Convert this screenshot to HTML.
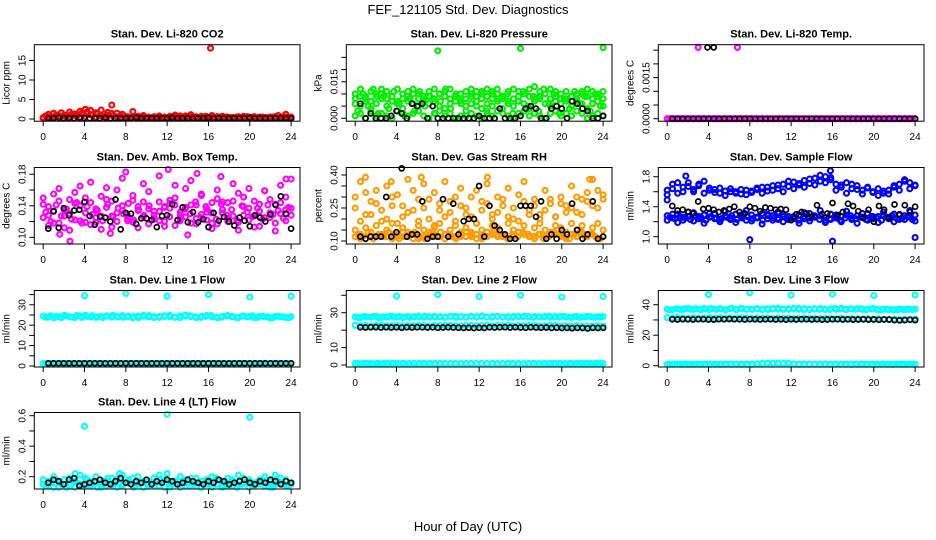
<!DOCTYPE html>
<html><head><meta charset="utf-8"><style>
html,body{margin:0;padding:0;background:#fff;}
svg{display:block;font-family:"Liberation Sans",Arial,sans-serif;}
</style></head><body>
<svg id="chart" width="936" height="540" viewBox="0 0 936 540">
<text x="468" y="14" text-anchor="middle" font-size="13">FEF_121105  Std. Dev. Diagnostics</text>
<text x="468" y="531" text-anchor="middle" font-size="13">Hour of Day (UTC)</text>
</svg>
<script>
// ---- data arrays ----
const hourTicks = [0,4,8,12,16,20,24];
// CO2
const co2RedA = [0.4,1.2,1.5,0.8,1.0,1.8,1.3,2.0,2.5,2.2,1.6,2.3,1.0,3.6,1.5,1.2,0.6,1.9,0.7,0.9,0.5,0.6,0.8,0.5,0.7,1.0,0.6,0.8,1.1,0.6,0.7,0.5,0.9,0.6,0.7,0.5,0.4,0.6,0.7,0.5,0.6,0.5,0.4,0.5,0.6,0.5,1.2,0.5];
const co2RedB = [0.2,0.6,0.5,0.3,0.8,0.5,0.9,0.4,0.7,1.1,0.5,0.8,0.3,1.4,0.6,0.4,0.3,0.5,0.3,0.4,0.3,0.2,0.4,0.3,0.3,0.5,0.3,0.4,0.5,0.3,0.4,0.2,0.4,0.3,0.3,0.2,0.2,0.3,0.4,0.2,0.3,0.2,0.2,0.3,0.3,0.2,0.5,0.2];
const co2RedC = [0.8,0.4,1.0,1.6,0.6,1.2,0.7,1.5,1.8,0.9,1.4,0.6,1.7,0.8,0.5,1.0,0.4,0.6,0.5,0.7,0.4,0.5,0.6,0.4,0.5,0.6,0.8,0.5,0.6,0.4,0.5,0.7,0.5,0.4,0.6,0.5,0.4,0.5,0.4,0.6,0.5,0.4,0.5,0.4,0.5,0.9,0.6,0.4];
const co2Outliers = [[16.2,18.2]];
const co2Black = [0.2,0.2,0.3,0.2,0.2,0.2,0.3,0.2,0.2,0.2,0.2,0.3,0.2,0.2,0.2,0.2,0.2,0.3,0.2,0.2,0.2,0.2,0.2,0.2,0.3,0.2,0.2,0.2,0.2,0.2,0.2,0.3,0.2,0.2,0.2,0.2,0.2,0.2,0.2,0.3,0.2,0.2,0.2,0.2,0.2,0.2,0.2,0.2];
// Pressure
const presGreenA = [0.010,0.012,0.009,0.011,0.010,0.012,0.011,0.009,0.012,0.010,0.011,0.012,0.010,0.009,0.011,0.012,0.010,0.011,0.012,0.009,0.010,0.011,0.012,0.011,0.010,0.012,0.011,0.010,0.009,0.011,0.012,0.011,0.010,0.012,0.013,0.011,0.010,0.012,0.011,0.010,0.011,0.009,0.010,0.011,0.012,0.011,0.010,0.011];
const presGreenB = [0.006,0.005,0.007,0.004,0.006,0.008,0.005,0.007,0.006,0.004,0.007,0.006,0.005,0.008,0.006,0.007,0.005,0.004,0.006,0.007,0.008,0.005,0.006,0.007,0.004,0.006,0.005,0.007,0.008,0.006,0.005,0.007,0.006,0.004,0.007,0.008,0.006,0.005,0.007,0.006,0.008,0.005,0.007,0.006,0.004,0.006,0.007,0.005];
const presGreenC = [0.001,0.002,0.000,0.003,0.001,0.002,0.001,0.000,0.003,0.002,0.001,0.002,0.003,0.001,0.000,0.002,0.003,0.001,0.002,0.000,0.001,0.003,0.002,0.001,0.000,0.002,0.001,0.003,0.002,0.001,0.000,0.002,0.003,0.001,0.002,0.001,0.000,0.002,0.003,0.001,0.002,0.001,0.003,0.002,0.000,0.001,0.002,0.001];
const presGreenD = [0.008,0.009,0.008,0.007,0.009,0.010,0.008,0.009,0.007,0.008,0.009,0.010,0.008,0.007,0.009,0.008,0.010,0.009,0.008,0.009,0.007,0.008,0.010,0.009,0.008,0.009,0.010,0.008,0.009,0.007,0.008,0.009,0.010,0.009,0.008,0.009,0.010,0.008,0.009,0.008,0.007,0.009,0.008,0.010,0.009,0.008,0.009,0.008];
const presGreenE = [0.003,0.010,0.005,0.012,0.002,0.009,0.004,0.011,0.006,0.001,0.008,0.003,0.011,0.005,0.009,0.002,0.007,0.012,0.004,0.010,0.006,0.001,0.009,0.005,0.011,0.003,0.008,0.012,0.004,0.010,0.002,0.007,0.011,0.005,0.009,0.003,0.012,0.006,0.010,0.002,0.008,0.004,0.011,0.006,0.009,0.003,0.010,0.005];
const presOutliers = [[8.0,0.0277],[16.0,0.0287],[24.0,0.0290]];
const presBlack = [0.006,0,0.002,0,0,0,0.001,0.003,0.002,0,0.006,0.005,0.006,0,0.005,0,0,0,0,0,0,0,0,0.001,0,0,0,0.004,0,0,0,0.001,0.004,0.005,0.004,0,0,0.004,0.005,0.004,0,0.007,0.006,0.004,0.003,0,0,0.001];
// Li-820 temp
const tempMag = [0,0,0,0,0,0,0,0,0,0,0,0,0,0,0,0,0,0,0,0,0,0,0,0,0,0,0,0,0,0,0,0,0,0,0,0,0,0,0,0,0,0,0,0,0,0,0,0];
const tempMag2 = [0,0,0,0,0,0,0,0,0,0,0,0,0,0,0,0,0,0,0,0,0,0,0,0,0,0,0,0,0,0,0,0,0,0,0,0,0,0,0,0,0,0,0,0,0,0,0,0];
const tempMagOutliers = [[3.0,0.0026],[6.8,0.0026]];
const tempBlack = [0,0,0,0,0,0,0,0,0,0,0,0,0,0,0,0,0,0,0,0,0,0,0,0,0,0,0,0,0,0,0,0,0,0,0,0,0,0,0,0,0,0,0,0,0,0,0,0];
const tempBlackOutliers = [[3.9,0.0026],[4.5,0.0026]];
// Amb box temp
const ambMagA = [0.142,0.128,0.155,0.118,0.135,0.148,0.122,0.165,0.131,0.144,0.119,0.152,0.138,0.127,0.160,0.134,0.121,0.147,0.139,0.126,0.158,0.133,0.145,0.120,0.137,0.150,0.129,0.162,0.141,0.124,0.153,0.136,0.118,0.149,0.131,0.144,0.127,0.156,0.139,0.122,0.146,0.133,0.159,0.125,0.142,0.130,0.151,0.137];
const ambMagB = [0.125,0.139,0.118,0.146,0.112,0.130,0.143,0.121,0.150,0.116,0.136,0.127,0.148,0.113,0.131,0.140,0.124,0.119,0.134,0.145,0.117,0.128,0.121,0.139,0.147,0.115,0.132,0.126,0.118,0.141,0.129,0.122,0.144,0.117,0.135,0.124,0.146,0.119,0.128,0.137,0.113,0.142,0.125,0.131,0.118,0.144,0.121,0.128];
const ambMagC = [0.150,0.115,0.133,0.162,0.127,0.109,0.157,0.140,0.119,0.170,0.125,0.110,0.163,0.146,0.120,0.175,0.128,0.153,0.112,0.168,0.136,0.123,0.178,0.114,0.143,0.166,0.124,0.138,0.172,0.117,0.155,0.132,0.111,0.160,0.145,0.120,0.168,0.109,0.151,0.162,0.127,0.114,0.159,0.148,0.108,0.166,0.135,0.174];
const ambMagD = [0.132,0.120,0.141,0.127,0.136,0.123,0.144,0.118,0.139,0.129,0.134,0.121,0.142,0.126,0.137,0.130,0.143,0.122,0.135,0.128,0.140,0.124,0.133,0.138,0.126,0.141,0.121,0.136,0.130,0.145,0.125,0.139,0.131,0.123,0.142,0.128,0.135,0.121,0.140,0.132,0.126,0.137,0.123,0.141,0.129,0.134,0.124,0.138];
const ambMagOutliers = [[2.6,0.095],[1.6,0.104],[8.0,0.183],[12.1,0.186],[14.9,0.181],[17.2,0.177],[23.5,0.174],[6.5,0.105],[14.0,0.103]];
const ambBlack = [0.111,0.133,0.112,0.137,0.128,0.134,0.135,0.145,0.127,0.116,0.126,0.125,0.120,0.148,0.110,0.131,0.130,0.117,0.124,0.124,0.122,0.113,0.127,0.128,0.142,0.122,0.138,0.119,0.132,0.119,0.123,0.113,0.131,0.121,0.126,0.120,0.115,0.125,0.121,0.114,0.128,0.125,0.120,0.129,0.141,0.152,0.130,0.111];
// Gas stream RH
const rhOrangeA = [0.12,0.13,0.11,0.14,0.12,0.13,0.12,0.11,0.13,0.14,0.12,0.13,0.11,0.12,0.14,0.13,0.12,0.11,0.13,0.12,0.14,0.12,0.13,0.11,0.12,0.14,0.13,0.12,0.13,0.11,0.12,0.14,0.13,0.12,0.11,0.13,0.12,0.14,0.13,0.12,0.11,0.13,0.12,0.14,0.12,0.13,0.11,0.12];
const rhOrangeB = [0.15,0.11,0.16,0.12,0.17,0.13,0.15,0.18,0.12,0.16,0.14,0.11,0.17,0.15,0.12,0.16,0.18,0.13,0.15,0.17,0.12,0.16,0.14,0.18,0.15,0.12,0.17,0.16,0.13,0.18,0.15,0.14,0.17,0.12,0.16,0.18,0.15,0.13,0.17,0.16,0.14,0.18,0.15,0.17,0.13,0.16,0.18,0.15];
const rhOrangeC = [0.30,0.37,0.22,0.28,0.33,0.19,0.35,0.26,0.31,0.21,0.38,0.24,0.29,0.36,0.20,0.32,0.27,0.37,0.23,0.30,0.34,0.25,0.21,0.33,0.28,0.36,0.22,0.30,0.26,0.34,0.20,0.31,0.37,0.24,0.29,0.22,0.33,0.27,0.21,0.30,0.26,0.35,0.23,0.29,0.32,0.38,0.25,0.31];
const rhOrangeD = [0.25,0.19,0.32,0.22,0.27,0.24,0.20,0.30,0.18,0.26,0.23,0.33,0.19,0.25,0.29,0.17,0.24,0.21,0.28,0.19,0.26,0.22,0.30,0.18,0.24,0.27,0.20,0.23,0.29,0.21,0.25,0.19,0.28,0.22,0.26,0.20,0.24,0.29,0.21,0.27,0.23,0.25,0.30,0.22,0.28,0.26,0.33,0.29];
const rhOrangeE = [0.13,0.12,0.14,0.11,0.13,0.12,0.14,0.13,0.11,0.12,0.13,0.14,0.12,0.11,0.13,0.12,0.14,0.13,0.12,0.11,0.13,0.14,0.12,0.13,0.11,0.12,0.14,0.13,0.12,0.11,0.13,0.12,0.14,0.13,0.12,0.13,0.11,0.12,0.14,0.13,0.12,0.11,0.13,0.14,0.12,0.13,0.12,0.11];
const rhOrangeOutliers = [[1.0,0.39],[3.5,0.37],[6.4,0.39],[12.8,0.39],[22.7,0.38]];
const rhBlack = [0.12,0.11,0.12,0.12,0.12,0.30,0.12,0.14,0.43,0.12,0.13,0.13,0.28,0.11,0.12,0.12,0.29,0.12,0.27,0.13,0.19,0.20,0.20,0.35,0.12,0.26,0.17,0.15,0.13,0.11,0.11,0.26,0.26,0.26,0.21,0.28,0.11,0.13,0.11,0.15,0.13,0.27,0.15,0.11,0.13,0.28,0.11,0.12];
// Sample flow
const flowBlueA = [1.28,1.25,1.30,1.22,1.27,1.32,1.24,1.29,1.26,1.31,1.23,1.28,1.25,1.30,1.27,1.22,1.29,1.26,1.31,1.24,1.28,1.25,1.30,1.23,1.27,1.29,1.24,1.31,1.26,1.28,1.22,1.30,1.25,1.27,1.29,1.23,1.28,1.26,1.31,1.24,1.27,1.29,1.25,1.30,1.23,1.28,1.26,1.29];
const flowBlueB = [1.22,1.30,1.19,1.26,1.33,1.21,1.27,1.18,1.31,1.24,1.20,1.34,1.23,1.19,1.29,1.35,1.21,1.25,1.17,1.30,1.22,1.33,1.20,1.27,1.24,1.18,1.32,1.21,1.26,1.35,1.19,1.23,1.29,1.20,1.34,1.25,1.18,1.31,1.22,1.27,1.19,1.33,1.24,1.20,1.29,1.23,1.35,1.21];
const flowBlueC = [1.62,1.70,1.58,1.66,1.72,1.60,1.68,1.74,1.65,1.63,1.58,1.61,1.64,1.60,1.57,1.62,1.59,1.63,1.66,1.61,1.68,1.64,1.70,1.67,1.73,1.69,1.75,1.71,1.78,1.74,1.80,1.76,1.70,1.66,1.72,1.64,1.68,1.62,1.66,1.60,1.64,1.58,1.62,1.66,1.70,1.74,1.72,1.68];
const flowBlueD = [1.56,1.64,1.72,1.60,1.67,1.63,1.70,1.58,1.62,1.59,1.65,1.55,1.60,1.58,1.63,1.56,1.61,1.65,1.58,1.66,1.62,1.69,1.60,1.74,1.64,1.71,1.66,1.77,1.69,1.82,1.72,1.79,1.62,1.69,1.58,1.70,1.63,1.57,1.65,1.59,1.55,1.61,1.57,1.68,1.62,1.76,1.64,1.69];
const flowBlueE = [1.26,1.24,1.27,1.25,1.23,1.28,1.26,1.22,1.27,1.25,1.24,1.26,1.28,1.23,1.25,1.27,1.24,1.26,1.22,1.28,1.25,1.23,1.27,1.26,1.24,1.22,1.27,1.25,1.28,1.23,1.26,1.24,1.27,1.22,1.25,1.28,1.24,1.26,1.23,1.27,1.25,1.22,1.26,1.28,1.24,1.25,1.27,1.23];
const flowBlueOutliers = [[8.0,0.96],[16.0,0.94],[24.0,0.99],[0.0,1.49],[1.8,1.81],[15.8,1.88]];
const flowBlack = [1.41,1.35,1.36,1.33,1.31,1.47,1.37,1.38,1.36,1.33,1.35,1.37,1.40,1.33,1.31,1.40,1.38,1.34,1.39,1.38,1.36,1.37,1.36,1.22,1.30,1.33,1.31,1.27,1.42,1.30,1.31,1.45,1.29,1.33,1.44,1.41,1.34,1.25,1.36,1.20,1.41,1.36,1.25,1.43,1.30,1.42,1.33,1.40];
// Line 1
const l1CyanTop = [24.5,24.0,23.6,24.2,24.8,24.1,23.7,24.4,24.9,24.0,23.8,24.3,24.6,23.9,24.2,24.7,24.1,23.6,24.4,24.8,24.0,23.7,24.3,24.6,24.1,23.8,24.5,25.0,24.2,23.7,24.4,24.8,24.0,23.6,24.3,24.7,24.1,23.8,24.5,24.2,23.7,24.4,24.0,23.6,24.3,24.1,23.8,24.2];
const l1CyanTop2 = [23.9,24.6,24.2,23.7,24.5,24.0,24.8,23.8,24.3,24.6,24.1,23.7,24.4,24.9,24.0,23.8,24.5,24.2,23.7,24.4,24.7,24.1,23.8,24.3,24.9,24.0,23.7,24.4,24.6,24.1,23.8,24.3,24.7,24.0,23.9,24.5,24.2,23.7,24.4,24.0,24.6,23.8,24.3,24.1,23.7,24.4,24.0,23.6];
const l1CyanLow = [1.2,1.1,1.3,1.2,1.1,1.2,1.3,1.2,1.1,1.2,1.2,1.3,1.1,1.2,1.2,1.1,1.3,1.2,1.2,1.1,1.2,1.3,1.2,1.1,1.2,1.2,1.3,1.2,1.1,1.2,1.2,1.3,1.1,1.2,1.2,1.1,1.2,1.3,1.2,1.1,1.2,1.2,1.3,1.2,1.1,1.2,1.2,1.2];
const l1CyanLow2 = [1.1,1.2,1.2,1.3,1.2,1.1,1.2,1.2,1.3,1.1,1.2,1.2,1.1,1.3,1.2,1.2,1.1,1.2,1.3,1.2,1.1,1.2,1.2,1.3,1.1,1.2,1.2,1.1,1.3,1.2,1.2,1.1,1.2,1.3,1.2,1.1,1.2,1.2,1.3,1.2,1.1,1.2,1.2,1.1,1.3,1.2,1.2,1.1];
const l1CyanOutliers = [[4.0,34.5],[8.0,35.6],[12.0,34.2],[16.0,35.0],[20.0,33.8],[24.0,34.2]];
const l1Black = [1.3,1.3,1.3,1.3,1.3,1.3,1.3,1.3,1.3,1.3,1.3,1.3,1.3,1.3,1.3,1.3,1.3,1.3,1.3,1.3,1.3,1.3,1.3,1.3,1.3,1.3,1.3,1.3,1.3,1.3,1.3,1.3,1.3,1.3,1.3,1.3,1.3,1.3,1.3,1.3,1.3,1.3,1.3,1.3,1.3,1.3,1.3,1.3];
// Line 2
const l2CyanTop = [27.6,27.2,27.8,27.4,27.9,27.3,27.6,28.0,27.5,27.2,27.8,27.6,28.1,27.4,27.7,27.9,27.5,27.3,27.8,28.0,27.6,27.4,27.9,27.7,28.2,27.5,27.8,28.0,27.6,27.3,27.9,27.7,28.1,27.5,27.8,27.6,27.9,27.4,27.7,28.0,27.6,27.3,27.8,27.6,27.9,27.5,27.7,27.8];
const l2CyanTop2 = [27.3,27.7,27.5,27.9,27.2,27.6,27.8,27.4,27.9,27.6,27.3,27.7,27.5,28.0,27.4,27.6,27.8,27.5,27.9,27.3,27.7,27.6,28.0,27.4,27.8,27.6,27.3,27.9,27.5,27.7,27.4,27.8,27.6,27.9,27.3,27.7,27.5,28.0,27.6,27.4,27.8,27.5,27.7,27.3,27.6,27.8,27.4,27.6];
const l2CyanMid = [22.8,22.5,22.7,22.4,22.6,22.8,22.5,22.6,22.7,22.4,22.6,22.5,22.8,22.6,22.4,22.7,22.5,22.6,22.8,22.5,22.4,22.6,22.7,22.5,22.6,22.8,22.4,22.6,22.5,22.7,22.4,22.6,22.5,22.7,22.6,22.4,22.5,22.7,22.6,22.4,22.5,22.3,22.6,22.2,22.4,22.3,22.5,22.4];
const l2CyanLow = [0.8,0.7,0.9,0.8,0.8,0.7,0.9,0.8,0.8,0.9,0.7,0.8,0.8,0.9,0.8,0.7,0.8,0.9,0.8,0.8,0.7,0.8,0.9,0.8,0.8,0.7,0.9,0.8,0.8,0.9,0.7,0.8,0.8,0.9,0.8,0.7,0.8,0.9,0.8,0.8,0.7,0.8,0.9,0.8,0.8,0.7,0.9,0.8];
const l2CyanLow2 = [0.9,0.8,0.8,0.7,0.9,0.8,0.8,0.9,0.7,0.8,0.8,0.9,0.8,0.7,0.9,0.8,0.8,0.7,0.9,0.8,0.8,0.9,0.7,0.8,0.8,0.9,0.8,0.7,0.8,0.8,0.9,0.8,0.7,0.8,0.9,0.8,0.8,0.7,0.9,0.8,0.8,0.9,0.7,0.8,0.8,0.9,0.8,0.8];
const l2CyanOutliers = [[4.0,39.5],[8.0,40.4],[12.0,39.3],[16.0,40.0],[20.0,39.0],[24.0,39.3]];
const l2Black = [21.6,21.5,21.6,21.7,21.5,21.6,21.5,21.6,21.4,21.6,21.5,21.7,21.6,21.5,21.6,21.4,21.5,21.6,21.5,21.4,21.3,21.4,21.2,21.4,21.3,21.6,21.5,21.6,21.7,21.5,21.6,21.5,21.4,21.6,21.5,21.4,21.5,21.3,21.4,21.2,21.3,21.1,21.3,21.2,21.0,21.3,21.2,21.3];
// Line 3
const l3CyanTop = [37.0,36.6,37.3,36.8,37.5,36.9,37.2,37.6,36.8,37.1,37.4,36.7,37.3,37.0,37.6,36.9,37.2,37.5,36.8,37.4,37.1,37.7,36.9,37.3,37.6,37.0,37.4,36.8,37.2,37.5,36.9,37.3,37.0,37.6,36.8,37.2,37.4,36.9,37.1,37.6,36.7,37.0,36.8,36.6,37.1,36.7,37.0,37.2];
const l3CyanTop2 = [36.7,37.2,36.9,37.4,37.0,37.3,36.8,37.1,37.5,36.9,37.2,37.0,37.6,36.8,37.3,37.1,36.9,37.4,37.2,36.8,37.5,37.0,37.3,36.9,37.2,37.6,36.8,37.1,37.4,37.0,37.2,36.8,37.5,37.1,36.9,37.3,37.0,37.4,36.8,37.2,37.0,36.7,37.1,36.9,36.6,36.9,37.1,36.8];
const l3CyanMid = [31.5,31.2,31.6,31.3,31.0,31.4,31.1,31.3,31.5,31.2,31.4,31.0,31.3,31.1,31.4,31.2,31.0,31.3,31.1,31.2,30.9,31.1,31.0,31.2,30.8,31.0,31.1,30.9,31.0,30.8,31.1,30.9,30.8,31.0,30.7,30.9,30.8,30.6,30.9,30.7,30.8,30.6,30.5,30.7,30.4,30.6,30.5,30.7];
const l3CyanLow = [1.0,0.9,1.1,1.0,1.0,0.9,1.1,1.0,1.0,1.1,0.9,1.0,1.0,1.1,1.0,0.9,1.0,1.1,1.4,1.6,1.5,1.7,1.4,1.6,1.2,1.0,1.1,1.0,1.0,0.9,1.1,1.0,1.0,1.1,0.9,1.0,1.0,1.1,1.0,0.9,1.0,1.1,1.0,1.0,0.9,1.0,1.1,1.0];
const l3CyanLow2 = [0.9,1.0,1.0,1.1,0.9,1.0,1.0,1.1,1.0,0.9,1.0,1.1,1.0,1.0,0.9,1.1,1.0,1.3,1.5,1.8,1.6,1.5,1.7,1.3,1.1,1.0,0.9,1.0,1.1,1.0,1.0,0.9,1.1,1.0,1.0,0.9,1.1,1.0,1.0,1.1,0.9,1.0,1.0,0.9,1.1,1.0,1.0,0.9];
const l3CyanOutliers = [[4.0,46.6],[8.0,47.8],[12.0,46.3],[16.0,47.0],[20.0,46.0],[24.0,46.4]];
const l3Black = [30.4,30.3,30.5,30.4,30.3,30.5,30.4,30.3,30.2,30.5,30.4,30.6,30.5,30.4,30.3,30.5,30.4,30.3,30.4,30.5,30.3,30.4,30.2,30.4,30.3,30.4,30.5,30.3,30.4,30.2,30.3,30.4,30.5,30.3,30.4,30.2,30.3,30.4,30.2,30.3,30.1,30.3,30.2,29.9,29.7,29.9,30.1,29.9];
// Line 4
const l4CyanA = [0.15,0.17,0.13,0.16,0.18,0.14,0.17,0.15,0.19,0.14,0.16,0.13,0.17,0.15,0.18,0.14,0.16,0.19,0.15,0.13,0.17,0.16,0.14,0.18,0.15,0.17,0.13,0.16,0.19,0.14,0.17,0.15,0.13,0.18,0.16,0.14,0.17,0.15,0.19,0.13,0.16,0.18,0.14,0.17,0.15,0.19,0.14,0.16];
const l4CyanB = [0.18,0.14,0.20,0.13,0.15,0.19,0.13,0.21,0.14,0.17,0.20,0.15,0.14,0.19,0.13,0.21,0.17,0.14,0.20,0.16,0.14,0.19,0.21,0.13,0.17,0.15,0.20,0.14,0.16,0.19,0.13,0.18,0.20,0.15,0.13,0.19,0.14,0.21,0.16,0.18,0.14,0.15,0.20,0.13,0.21,0.16,0.18,0.15];
const l4CyanC = [0.14,0.16,0.18,0.15,0.13,0.17,0.16,0.14,0.18,0.15,0.13,0.17,0.19,0.14,0.16,0.15,0.18,0.13,0.16,0.17,0.15,0.14,0.18,0.16,0.13,0.17,0.15,0.18,0.14,0.16,0.13,0.17,0.15,0.19,0.14,0.16,0.18,0.13,0.15,0.17,0.14,0.16,0.18,0.15,0.13,0.17,0.15,0.14];
const l4CyanOutliers = [[4.0,0.53],[12.0,0.61],[20.0,0.59],[3.1,0.22],[7.4,0.22],[12.0,0.22]];
const l4Black = [0.16,0.18,0.17,0.15,0.18,0.19,0.14,0.15,0.16,0.17,0.18,0.16,0.15,0.17,0.19,0.16,0.15,0.17,0.16,0.18,0.15,0.17,0.16,0.18,0.17,0.15,0.16,0.18,0.17,0.16,0.15,0.17,0.16,0.18,0.17,0.15,0.16,0.17,0.18,0.16,0.15,0.17,0.16,0.18,0.17,0.15,0.17,0.16];

// ---- layout (not data) ----
const NS = 'http://www.w3.org/2000/svg';
const svg = document.getElementById('chart');
const colLeft = [34.3, 346.3, 658.3], boxW = 265.7, boxH = 76.5;
const rowTop = [44.7, 167.5, 290.5, 412.5];
const XMIN = -0.86, XMAX = 24.86;

function mk(tag, attrs, parent){
  const e = document.createElementNS(NS, tag);
  for (const k in attrs) e.setAttribute(k, attrs[k]);
  (parent || svg).appendChild(e);
  return e;
}

const panels = [
  {key:'co2', title:'Stan. Dev. Li-820 CO2', ytitle:'Licor ppm', r:0,c:0, ylim:[-0.56,19.06], ticks:[0,5,10,15], labels:['0','5','10','15'],
   series:[{v:co2RedA,col:'#ff0000'},{v:co2RedC,col:'#ff0000',x0:0.25,x1:23.75},{v:co2RedB,col:'#ff0000'},{pts:co2Outliers,col:'#ff0000'},{v:co2Black,col:'#000000',x0:0.5}]},
  {key:'pressure', title:'Stan. Dev. Li-820 Pressure', ytitle:'kPa', r:0,c:1, ylim:[-0.00119,0.0302], ticks:[0,0.005,0.01,0.015,0.02,0.025], labels:['0.000','','','0.015','',''],
   series:[{v:presGreenA,col:'#00ee00'},{v:presGreenD,col:'#00ee00'},{v:presGreenE,col:'#00ee00',x0:0.25,x1:23.75},{v:presGreenB,col:'#00ee00'},{v:presGreenC,col:'#00ee00'},{pts:presOutliers,col:'#00ee00'},{v:presBlack,col:'#000000',x0:0.5}]},
  {key:'temp', title:'Stan. Dev. Li-820 Temp.', ytitle:'degrees C', r:0,c:2, ylim:[-0.00009,0.0027], ticks:[0,0.0005,0.001,0.0015,0.002,0.0025], labels:['0.0000','','','0.0015','',''],
   series:[{v:tempMag,col:'#ff00ff'},{v:tempMag2,col:'#ff00ff',x0:0.25,x1:23.75},{pts:tempMagOutliers,col:'#ff00ff'},{v:tempBlack,col:'#000000',x0:0.5},{pts:tempBlackOutliers,col:'#000000'}]},
  {key:'ambbox', title:'Stan. Dev. Amb. Box Temp.', ytitle:'degrees C', r:1,c:0, ylim:[0.0915,0.1886], ticks:[0.10,0.12,0.14,0.16,0.18], labels:['0.10','','0.14','','0.18'],
   series:[{v:ambMagA,col:'#ff00ff'},{v:ambMagB,col:'#ff00ff'},{v:ambMagD,col:'#ff00ff',x0:0.25,x1:23.75},{v:ambMagC,col:'#ff00ff'},{pts:ambMagOutliers,col:'#ff00ff'},{v:ambBlack,col:'#000000',x0:0.5}]},
  {key:'rh', title:'Stan. Dev. Gas Stream RH', ytitle:'percent', r:1,c:1, ylim:[0.0864,0.434], ticks:[0.10,0.15,0.20,0.25,0.30,0.35,0.40], labels:['0.10','','','0.25','','','0.40'],
   series:[{v:rhOrangeC,col:'#ff9a00'},{v:rhOrangeD,col:'#ff9a00'},{v:rhOrangeB,col:'#ff9a00'},{v:rhOrangeA,col:'#ff9a00'},{v:rhOrangeE,col:'#ff9a00',x0:0.25,x1:23.75},{pts:rhOrangeOutliers,col:'#ff9a00'},{v:rhBlack,col:'#000000',x0:0.5}]},
  {key:'sampleflow', title:'Stan. Dev. Sample Flow', ytitle:'ml/min', r:1,c:2, ylim:[0.903,1.923], ticks:[1.0,1.2,1.4,1.6,1.8], labels:['1.0','','1.4','','1.8'],
   series:[{v:flowBlueC,col:'#0000ff'},{v:flowBlueD,col:'#0000ff'},{v:flowBlueA,col:'#0000ff'},{v:flowBlueB,col:'#0000ff'},{v:flowBlueE,col:'#0000ff',x0:0.25,x1:23.75},{pts:flowBlueOutliers,col:'#0000ff'},{v:flowBlack,col:'#000000',x0:0.5}]},
  {key:'line1', title:'Stan. Dev. Line 1 Flow', ytitle:'ml/min', r:2,c:0, ylim:[-0.49,37.0], ticks:[0,5,10,15,20,25,30,35], labels:['0','','10','','20','','30',''],
   series:[{v:l1CyanTop,col:'#00ffff'},{v:l1CyanTop2,col:'#00ffff',x0:0.25,x1:23.75},{v:l1CyanLow,col:'#00ffff'},{v:l1CyanLow2,col:'#00ffff',x0:0.25,x1:23.75},{pts:l1CyanOutliers,col:'#00ffff'},{v:l1Black,col:'#000000',x0:0.5}]},
  {key:'line2', title:'Stan. Dev. Line 2 Flow', ytitle:'ml/min', r:2,c:1, ylim:[-1.15,42.74], ticks:[0,10,20,30,40], labels:['0','10','','30',''],
   series:[{v:l2CyanTop,col:'#00ffff'},{v:l2CyanTop2,col:'#00ffff',x0:0.25,x1:23.75},{v:l2CyanMid,col:'#00ffff'},{v:l2CyanLow,col:'#00ffff'},{v:l2CyanLow2,col:'#00ffff',x0:0.25,x1:23.75},{pts:l2CyanOutliers,col:'#00ffff'},{v:l2Black,col:'#000000',x0:0.5}]},
  {key:'line3', title:'Stan. Dev. Line 3 Flow', ytitle:'ml/min', r:2,c:2, ylim:[-0.85,49.3], ticks:[0,10,20,30,40], labels:['0','','20','','40'],
   series:[{v:l3CyanTop,col:'#00ffff'},{v:l3CyanTop2,col:'#00ffff',x0:0.25,x1:23.75},{v:l3CyanMid,col:'#00ffff'},{v:l3CyanLow,col:'#00ffff'},{v:l3CyanLow2,col:'#00ffff',x0:0.25,x1:23.75},{pts:l3CyanOutliers,col:'#00ffff'},{v:l3Black,col:'#000000',x0:0.5}]},
  {key:'line4', title:'Stan. Dev. Line 4 (LT) Flow', ytitle:'ml/min', r:3,c:0, ylim:[0.119,0.621], ticks:[0.2,0.3,0.4,0.5,0.6], labels:['0.2','','0.4','','0.6'],
   series:[{v:l4CyanA,col:'#00ffff'},{v:l4CyanB,col:'#00ffff'},{v:l4CyanC,col:'#00ffff',x0:0.25,x1:23.75},{pts:l4CyanOutliers,col:'#00ffff'},{v:l4Black,col:'#000000',x0:0.5}]}
];

panels.forEach(p => {
  const L = colLeft[p.c], T = rowTop[p.r], B = T + boxH, R = L + boxW;
  const xs = h => L + (h - XMIN) / (XMAX - XMIN) * boxW;
  const ys = v => B - (v - p.ylim[0]) / (p.ylim[1] - p.ylim[0]) * boxH;
  const g = mk('g', {});
  
  

  const t = mk('text', {x:(L+R)/2, y:T-7, 'text-anchor':'middle', 'font-size':'11', 'font-weight':'bold'}, g);
  t.textContent = p.title;
  
  

  const yt = mk('text', {transform:`translate(${L-25},${(T+B)/2}) rotate(-90)`, 'text-anchor':'middle', 'font-size':'10'}, g);
  yt.textContent = p.ytitle;
  
  

  const pg = mk('g', {fill:'none'}, g);
  
  
  p.series.forEach(s => {
    const black = s.col === '#000000';
    let pts;
    if (s.pts) pts = s.pts;
    else {
      const x0 = s.x0 !== undefined ? s.x0 : 0, x1 = s.x1 !== undefined ? s.x1 : 24;
      const n = s.v.length;
      pts = s.v.map((v,i) => [x0 + i*(x1-x0)/(n-1), v]);
    }
    pts.forEach(([h,v]) => {
      const c = mk('circle', {cx:xs(h).toFixed(1), cy:ys(v).toFixed(1), r:2.5, stroke:s.col, 'stroke-width': black?1.7:2.1}, pg);
      
      
    });
  });

  const bx = mk('rect', {x:L, y:T, width:boxW, height:boxH, fill:'none', stroke:'#000', 'stroke-width':1}, g);
  
  

  const xa = mk('g', {}, g);
  
  
  hourTicks.forEach(h => {
    const x = xs(h);
    mk('line', {x1:x, x2:x, y1:B, y2:B+5, stroke:'#000'}, xa);
    const tl = mk('text', {x:x, y:B+19, 'text-anchor':'middle', 'font-size':'10'}, xa);
    tl.textContent = h;
    
    
  });
  const ya = mk('g', {}, g);
  
  
  p.ticks.forEach((v,i) => {
    const y = ys(v);
    mk('line', {x1:L-5, x2:L, y1:y, y2:y, stroke:'#000'}, ya);
    if (p.labels[i]) {
      const tl = mk('text', {transform:`translate(${L-9},${y}) rotate(-90)`, 'text-anchor':'middle', 'font-size':'10'}, ya);
      tl.textContent = p.labels[i];
      
      
    }
  });
});
</script>
</body></html>
